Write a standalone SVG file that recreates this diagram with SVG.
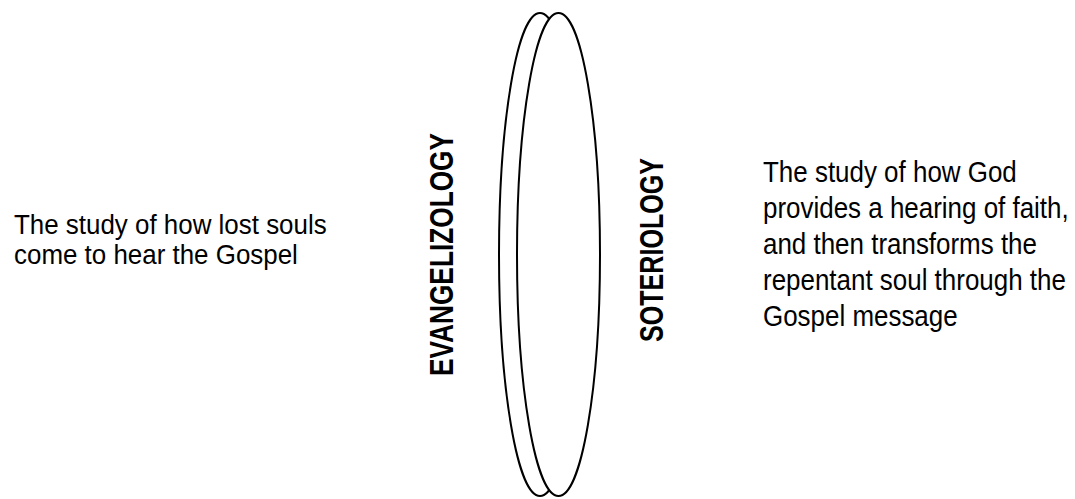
<svg xmlns="http://www.w3.org/2000/svg" width="1075" height="499" viewBox="0 0 1075 499">
<style>
.body{font-family:"Liberation Sans",Arial,sans-serif;font-size:29.5px;fill:#000}
.body-l{font-family:"Liberation Sans",Arial,sans-serif;font-size:28.5px;fill:#000}
.head{font-family:"Liberation Sans",Arial,sans-serif;font-size:33px;font-weight:bold;fill:#000}
.lens{fill:#fff;stroke:#000;stroke-width:2}
</style>
<rect width="1075" height="499" fill="#fff"/>
<g id="lens-left"><ellipse class="lens" cx="540" cy="254.5" rx="41" ry="241.5"/></g>
<g id="lens-right"><ellipse class="lens" cx="558.5" cy="254.5" rx="41.5" ry="241.5"/></g>
<g id="evangelizology">
<text class="head" transform="translate(453,376) rotate(-90)" x="0" y="0" textLength="243" lengthAdjust="spacingAndGlyphs">EVANGELIZOLOGY</text>
</g>
<g id="soteriology">
<text class="head" transform="translate(663,342) rotate(-90)" x="0" y="0" textLength="184" lengthAdjust="spacingAndGlyphs">SOTERIOLOGY</text>
</g>
<g id="left-desc" transform="translate(14,0) scale(0.91,1)">
<text class="body-l" x="0" y="234.5">The study of how lost souls</text>
<text class="body-l" x="0" y="264.5">come to hear the Gospel</text>
</g>
<g id="right-desc" transform="translate(763,0) scale(0.88,1)">
<text class="body" x="0" y="182">The study of how God</text>
<text class="body" x="0" y="218">provides a hearing of faith,</text>
<text class="body" x="0" y="254">and then transforms the</text>
<text class="body" x="0" y="290.5">repentant soul through the</text>
<text class="body" x="0" y="326.5">Gospel message</text>
</g>
<g id="connectors"></g>
</svg>
